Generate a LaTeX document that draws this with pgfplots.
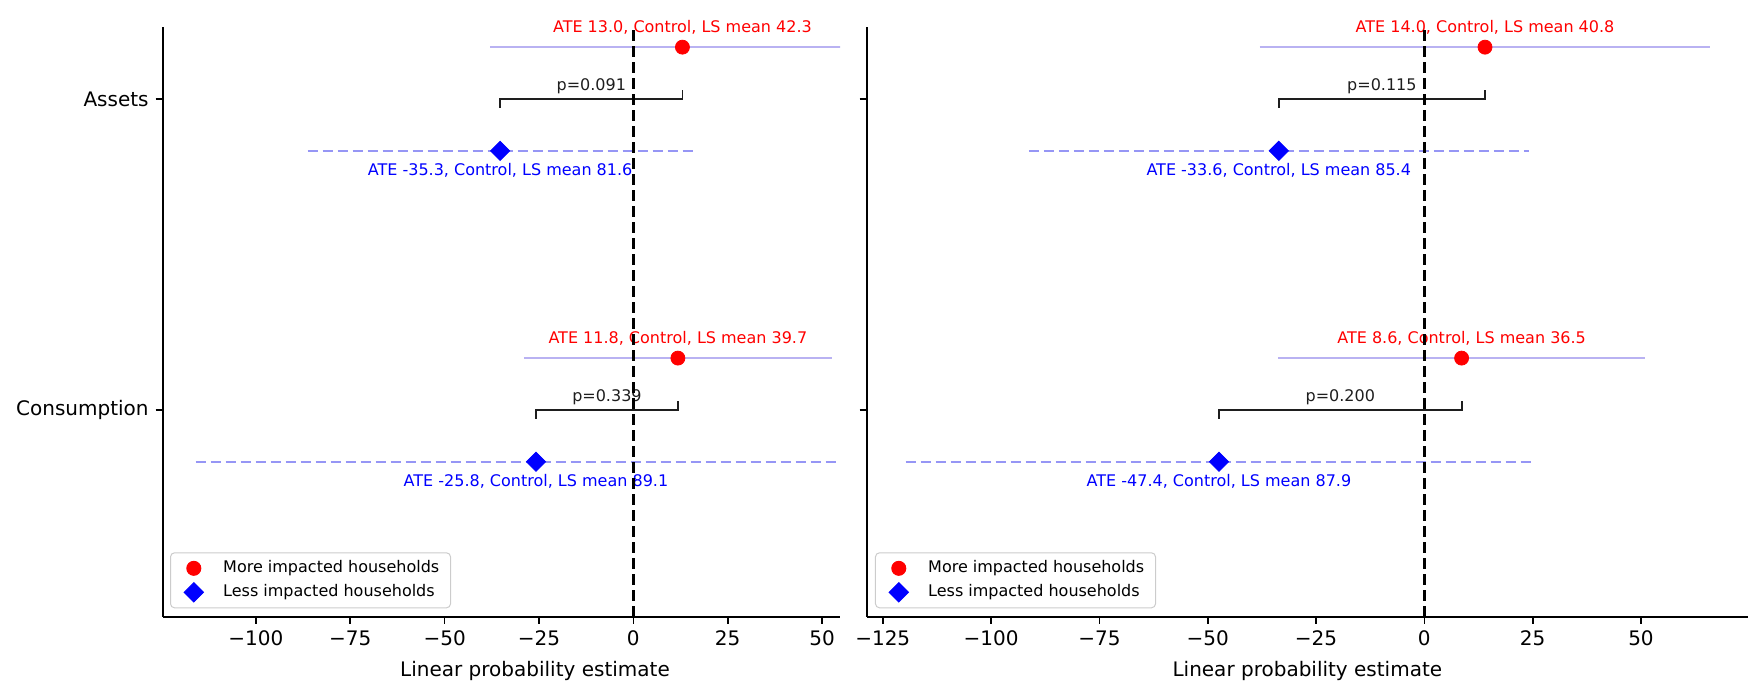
\documentclass[border=0pt]{standalone}
\usepackage{fontspec}
\setmainfont{DejaVu Sans}
\usepackage{pgfplots}
\pgfplotsset{compat=1.18}

% 1 px of the reference = 0.5pt
\newcommand\ticksize{\fontsize{10pt}{12pt}\selectfont}
\newcommand\annsize{\fontsize{8pt}{9.6pt}\selectfont}

\definecolor{cired}{RGB}{185,178,242}
\definecolor{ciblue}{RGB}{150,150,245}
\definecolor{legframe}{RGB}{204,204,204}
\definecolor{brk}{RGB}{30,30,30}

\pgfplotsset{
  panel/.style={
    scale only axis, anchor=south west, height=295pt,
    ymin=-0.665, ymax=1.2325,
    axis x line*=bottom, axis y line*=left,
    axis line style={line width=0.85pt, black},
    tick style={line width=0.85pt, black},
    tick align=outside, major tick length=3.5pt,
    ytick={0,1},
    tick label style={font=\ticksize},
    label style={font=\ticksize},
    clip mode=individual,
    legend cell align=left,
    legend style={anchor=south west, draw=legframe, line width=0.5pt,
      rounded corners=2pt, fill=white, fill opacity=0.8, text opacity=1,
      inner xsep=5.65pt, inner ysep=1.75pt, font=\annsize,
      nodes={inner sep=0pt}, row sep=0pt},
    legend image code/.code={
      \path[draw=none, fill=none] (0pt,-6pt) rectangle (20.7pt,6pt);
      \draw[##1, fill opacity=1, draw opacity=1] plot coordinates {(6pt,0pt)};},
  },
  redpt/.style={only marks, mark=*, mark size=3.5pt, red},
  bluept/.style={only marks, mark=square*, mark options={rotate=45}, mark size=3.4pt, blue},
  redci/.style={cired, line width=1pt, forget plot},
  blueci/.style={ciblue, line width=1pt, dash pattern=on 5pt off 2.5pt, forget plot},
  bracket/.style={brk, line width=0.9pt, forget plot},
  zeroline/.style={black, line width=1.5pt, dash pattern=on 5.5pt off 2.5pt, forget plot},
}

\begin{document}
\begin{tikzpicture}

% ---- left panel
\begin{axis}[panel, at={(81.35pt,32.15pt)}, width=338.65pt,
  xmin=-124.7, xmax=54.75,
  xtick={-100,-75,-50,-25,0,25,50},
  xticklabels={−100,−75,−50,−25,0,25,50},
  yticklabels={Consumption,Assets},
  xlabel={Linear probability estimate},
  xlabel style={at={(axis description cs:0.5497,0)}, anchor=base, yshift=-29.65pt},
  legend style={at={(0.0108,0.0142)}},
]
\addplot[redci] coordinates {(-38.0,1.1667) (64.0,1.1667)};
\addplot[redci] coordinates {(-29.0,0.1667) (52.6,0.1667)};
\addplot[blueci] coordinates {(-86.3,0.8333) (15.7,0.8333)};
\addplot[blueci] coordinates {(-116.0,-0.1667) (64.4,-0.1667)};
\addplot[bracket] coordinates {(-35.3,0.9711) (-35.3,1) (13.0,1) (13.0,1.0289)};
\addplot[bracket] coordinates {(-25.8,-0.0289) (-25.8,0) (11.8,0) (11.8,0.0289)};
\addplot[redpt, forget plot] coordinates {(13.0,1.1667) (11.8,0.1667)};
\addplot[bluept, forget plot] coordinates {(-35.3,0.8333) (-25.8,-0.1667)};
\node[red, font=\annsize, yshift=9.7pt] at (axis cs:13.0,1.1667) {ATE 13.0, Control, LS mean 42.3};
\node[blue, font=\annsize, yshift=-9.85pt] at (axis cs:-35.3,0.8333) {ATE -35.3, Control, LS mean 81.6};
\node[red, font=\annsize, yshift=9.7pt] at (axis cs:11.8,0.1667) {ATE 11.8, Control, LS mean 39.7};
\node[blue, font=\annsize, yshift=-9.85pt] at (axis cs:-25.8,-0.1667) {ATE -25.8, Control, LS mean 89.1};
\node[brk, font=\annsize, yshift=6.5pt] at (axis cs:-11.15,1) {p=0.091};
\node[brk, font=\annsize, yshift=6.5pt] at (axis cs:-7.0,0) {p=0.339};
\addplot[zeroline] coordinates {(0,-0.665) (0,1.2325)};
\addlegendimage{redpt}
\addlegendentry{More impacted households}
\addlegendimage{bluept}
\addlegendentry{Less impacted households}
\end{axis}

% ---- right panel
\begin{axis}[panel, at={(433.35pt,32.15pt)}, width=440.65pt,
  xmin=-128.7, xmax=74.7,
  xtick={-125,-100,-75,-50,-25,0,25,50},
  xticklabels={−125,−100,−75,−50,−25,0,25,50},
  yticklabels={\relax,\relax},
  xlabel={Linear probability estimate},
  xlabel style={at={(axis description cs:0.5,0)}, anchor=base, yshift=-29.65pt},
  legend style={at={(0.0094,0.0142)}},
]
\addplot[redci] coordinates {(-38.0,1.1667) (66.0,1.1667)};
\addplot[redci] coordinates {(-33.8,0.1667) (51.0,0.1667)};
\addplot[blueci] coordinates {(-91.3,0.8333) (24.1,0.8333)};
\addplot[blueci] coordinates {(-119.7,-0.1667) (24.9,-0.1667)};
\addplot[bracket] coordinates {(-33.6,0.9711) (-33.6,1) (14.0,1) (14.0,1.0289)};
\addplot[bracket] coordinates {(-47.4,-0.0289) (-47.4,0) (8.6,0) (8.6,0.0289)};
\addplot[redpt, forget plot] coordinates {(14.0,1.1667) (8.6,0.1667)};
\addplot[bluept, forget plot] coordinates {(-33.6,0.8333) (-47.4,-0.1667)};
\node[red, font=\annsize, yshift=9.7pt] at (axis cs:14.0,1.1667) {ATE 14.0, Control, LS mean 40.8};
\node[blue, font=\annsize, yshift=-9.85pt] at (axis cs:-33.6,0.8333) {ATE -33.6, Control, LS mean 85.4};
\node[red, font=\annsize, yshift=9.7pt] at (axis cs:8.6,0.1667) {ATE 8.6, Control, LS mean 36.5};
\node[blue, font=\annsize, yshift=-9.85pt] at (axis cs:-47.4,-0.1667) {ATE -47.4, Control, LS mean 87.9};
\node[brk, font=\annsize, yshift=6.5pt] at (axis cs:-9.8,1) {p=0.115};
\node[brk, font=\annsize, yshift=6.5pt] at (axis cs:-19.4,0) {p=0.200};
\addplot[zeroline] coordinates {(0,-0.665) (0,1.2325)};
\addlegendimage{redpt}
\addlegendentry{More impacted households}
\addlegendimage{bluept}
\addlegendentry{Less impacted households}
\end{axis}

\pgfresetboundingbox
\path[use as bounding box] (0,0) rectangle (875.5pt,340.5pt);
\end{tikzpicture}
\end{document}
